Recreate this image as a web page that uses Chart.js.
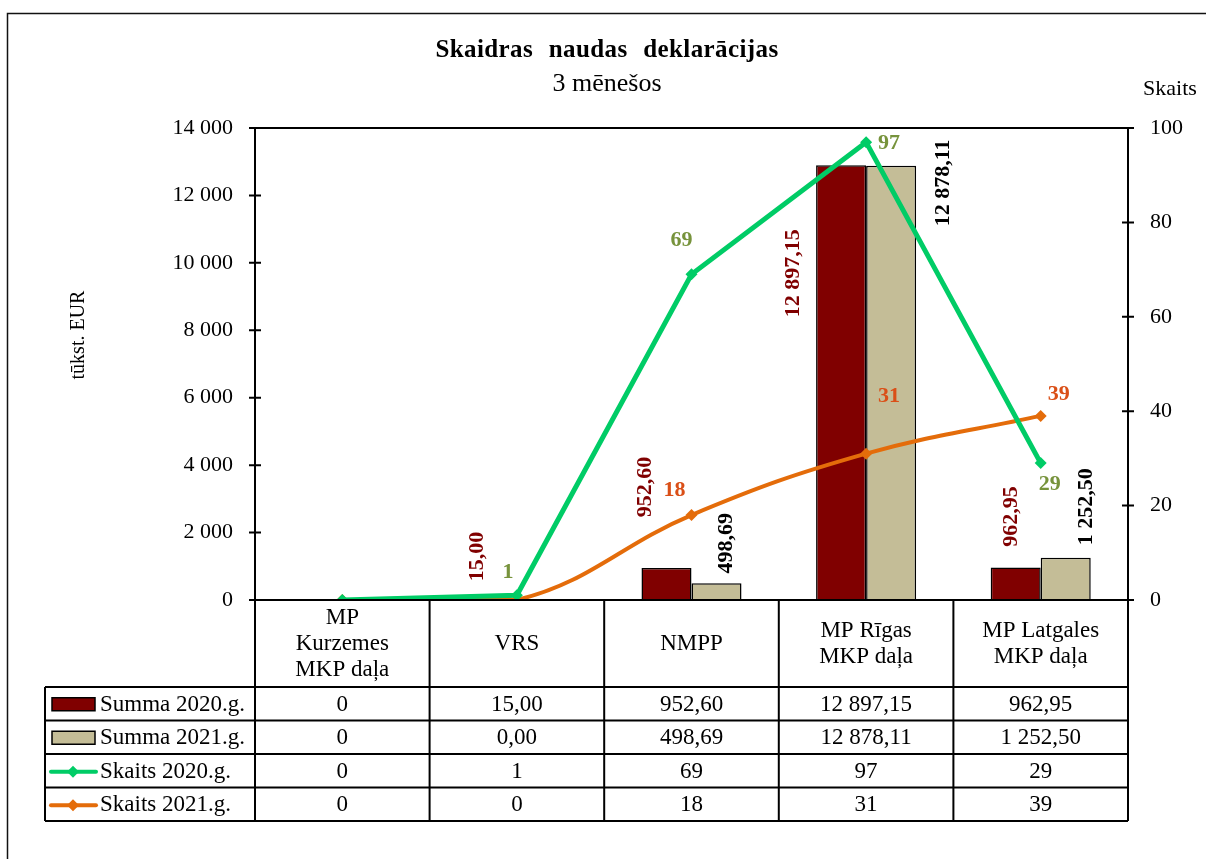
<!DOCTYPE html>
<html><head><meta charset="utf-8">
<script src="https://cdn.jsdelivr.net/npm/chart.js@4.4.1/dist/chart.umd.min.js"></script>
<style>html,body{margin:0;padding:0;background:#fff;}canvas{display:block;}</style>
</head><body>
<canvas id="c" width="1206" height="859"></canvas>
<script>
// ---- data ----
const categories = [['MP','Kurzemes','MKP daļa'], ['VRS'], ['NMPP'], ['MP Rīgas','MKP daļa'], ['MP Latgales','MKP daļa']];
const summa2020 = [0, 15.00, 952.60, 12897.15, 962.95];
const summa2021 = [0, 0.00, 498.69, 12878.11, 1252.50];
const skaits2020 = [0, 1, 69, 97, 29];
const skaits2021 = [0, 0, 18, 31, 39];
const leftTicks = [0, 2000, 4000, 6000, 8000, 10000, 12000, 14000];
const rightTicks = [0, 20, 40, 60, 80, 100];
const seriesNames = ['Summa 2020.g.', 'Summa 2021.g.', 'Skaits 2020.g.', 'Skaits 2021.g.'];
const titleText = 'Skaidras naudas deklarācijas';
const subtitleText = '3 mēnešos';
const leftAxisTitle = 'tūkst. EUR';
const rightAxisTitle = 'Skaits';

// ---- styles ----
const FONT = '"Liberation Serif", "Times New Roman", serif';
const C_RED = '#800000', C_BEIGE = '#C4BD97', C_GREEN = '#00CC66', C_ORANGE = '#E46C0A';
const LBL_GREEN = '#77933C', LBL_ORANGE = '#DA4F17';

function fmtNum(v, dec) {
  const s = v.toFixed(dec);
  let [ip, dp] = s.split('.');
  ip = ip.replace(/\B(?=(\d{3})+(?!\d))/g, ' ');
  return dp ? ip + ',' + dp : ip;
}
const fmtSum = (v, i) => i === 0 ? String(v) : fmtNum(v, 2);
const fmtCnt = (v) => String(v);

// label placement (offset of text centre from the mark, px)
const labelCfg = [
  { color: C_RED, rotate: true, off: [null, [-15, -43], [-21, -81], [-48, 108], [-4, -51]] },
  { color: '#000', rotate: true, off: [null, null, [10, -40], [52, 17], [21, -51]] },
  { color: LBL_GREEN, rotate: false, off: [null, [-9, -23], [-10, -34], [23, 1], [9, 21]] },
  { color: LBL_ORANGE, rotate: false, off: [null, null, [-17, -25], [23, -57], [18, -22]] }
];

const tableRowsY = [687, 720.5, 754, 787.5, 821];

const decor = {
  id: 'decor',
  beforeDraw(chart) {
    const ctx = chart.ctx;
    ctx.save();
    ctx.fillStyle = '#fff';
    ctx.fillRect(0, 0, chart.width, chart.height);
    ctx.strokeStyle = '#111';
    ctx.lineWidth = 1.5;
    ctx.strokeRect(7.5, 13.5, 1300, 1000);
    // titles
    ctx.fillStyle = '#000';
    ctx.textAlign = 'center';
    ctx.textBaseline = 'middle';
    ctx.font = 'bold 25px ' + FONT;
    if ('letterSpacing' in ctx) ctx.letterSpacing = '0.4px';
    if ('wordSpacing' in ctx) ctx.wordSpacing = '9px';
    ctx.fillText(titleText, 607, 51);
    if ('letterSpacing' in ctx) ctx.letterSpacing = '0px';
    if ('wordSpacing' in ctx) ctx.wordSpacing = '0px';
    ctx.font = '26px ' + FONT;
    ctx.fillText(subtitleText, 607, 84);
    ctx.font = '22px ' + FONT;
    ctx.fillText(rightAxisTitle, 1170, 89);
    ctx.save();
    ctx.translate(79, 335);
    ctx.rotate(-Math.PI / 2);
    ctx.font = '20px ' + FONT;
    ctx.fillText(leftAxisTitle, 0, 0);
    ctx.restore();
    ctx.restore();
  },
  afterDatasetsDraw(chart) {
    const ctx = chart.ctx;
    const a = chart.chartArea;
    const yL = chart.scales.y, yR = chart.scales.y1, xs = chart.scales.x;
    ctx.save();
    ctx.strokeStyle = '#000';
    ctx.lineWidth = 2;
    ctx.beginPath();
    // plot frame / axes
    ctx.moveTo(a.left, a.top); ctx.lineTo(a.right, a.top);
    ctx.moveTo(a.left, a.top); ctx.lineTo(a.left, tableRowsY[tableRowsY.length - 1]);
    ctx.moveTo(a.right, a.top); ctx.lineTo(a.right, tableRowsY[tableRowsY.length - 1]);
    ctx.moveTo(a.left - 6, a.bottom); ctx.lineTo(a.right + 6, a.bottom);
    leftTicks.forEach(v => { const y = yL.getPixelForValue(v); ctx.moveTo(a.left - 6, y); ctx.lineTo(a.left + 6, y); });
    rightTicks.forEach(v => { const y = yR.getPixelForValue(v); ctx.moveTo(a.right - 6, y); ctx.lineTo(a.right + 6, y); });
    // table
    const n = categories.length;
    const bounds = [a.left];
    for (let i = 0; i < n - 1; i++) bounds.push((xs.getPixelForValue(i) + xs.getPixelForValue(i + 1)) / 2);
    bounds.push(a.right);
    const tb = tableRowsY[tableRowsY.length - 1];
    bounds.forEach(x => { ctx.moveTo(x, a.bottom); ctx.lineTo(x, tb); });
    const legL = 45;
    ctx.moveTo(legL, tableRowsY[0]); ctx.lineTo(legL, tb);
    tableRowsY.forEach(y => { ctx.moveTo(legL, y); ctx.lineTo(a.right, y); });
    ctx.stroke();

    ctx.fillStyle = '#000';
    ctx.textAlign = 'center';
    ctx.textBaseline = 'middle';
    ctx.font = '23px ' + FONT;
    const lh = 26;
    const hc = (a.bottom + tableRowsY[0]) / 2;
    categories.forEach((lines, i) => {
      const cx = xs.getPixelForValue(i);
      lines.forEach((t, k) => ctx.fillText(t, cx, hc + (k - (lines.length - 1) / 2) * lh));
    });
    const rows = [summa2020.map(fmtSum), summa2021.map(fmtSum), skaits2020.map(fmtCnt), skaits2021.map(fmtCnt)];
    rows.forEach((vals, r) => {
      const cy = (tableRowsY[r] + tableRowsY[r + 1]) / 2 + 1;
      vals.forEach((t, i) => ctx.fillText(t, xs.getPixelForValue(i), cy));
      // legend key
      const ds = chart.data.datasets[r];
      if (ds.type === 'bar') {
        ctx.fillStyle = ds.backgroundColor;
        ctx.fillRect(52, cy - 7, 43, 13);
        ctx.lineWidth = 1.5; ctx.strokeStyle = '#000';
        ctx.strokeRect(52, cy - 7, 43, 13);
      } else {
        ctx.strokeStyle = ds.borderColor; ctx.lineWidth = 4; ctx.lineCap = 'round';
        ctx.beginPath(); ctx.moveTo(51, cy); ctx.lineTo(96, cy); ctx.stroke();
        ctx.fillStyle = ds.borderColor;
        ctx.beginPath(); ctx.moveTo(73, cy - 6); ctx.lineTo(79, cy); ctx.lineTo(73, cy + 6); ctx.lineTo(67, cy); ctx.closePath(); ctx.fill();
      }
      ctx.fillStyle = '#000';
      ctx.textAlign = 'left';
      ctx.fillText(seriesNames[r], 100, cy);
      ctx.textAlign = 'center';
    });

    // data labels
    ctx.font = 'bold 22px ' + FONT;
    chart.data.datasets.forEach((ds, d) => {
      const meta = chart.getDatasetMeta(d);
      const cfg = labelCfg[d];
      ds.data.forEach((v, i) => {
        const off = cfg.off[i];
        if (!off) return;
        const el = meta.data[i];
        const txt = ds.type === 'bar' ? fmtNum(v, 2) : fmtCnt(v);
        ctx.save();
        ctx.fillStyle = cfg.color;
        ctx.translate(el.x + off[0], el.y + off[1]);
        if (cfg.rotate) ctx.rotate(-Math.PI / 2);
        ctx.fillText(txt, 0, 0);
        ctx.restore();
      });
    });
    ctx.restore();
  }
};

new Chart(document.getElementById('c'), {
  data: {
    labels: categories,
    datasets: [
      { type: 'bar', label: seriesNames[0], data: summa2020, yAxisID: 'y', backgroundColor: C_RED, borderColor: '#000', borderWidth: 1.5, order: 2 },
      { type: 'bar', label: seriesNames[1], data: summa2021, yAxisID: 'y', backgroundColor: C_BEIGE, borderColor: '#000', borderWidth: 1.5, order: 2 },
      { type: 'line', label: seriesNames[2], data: skaits2020, yAxisID: 'y1', borderColor: C_GREEN, backgroundColor: C_GREEN, borderWidth: 5, tension: 0, pointStyle: 'rectRot', pointRadius: 6, pointBorderWidth: 0, order: 0 },
      { type: 'line', label: seriesNames[3], data: skaits2021, yAxisID: 'y1', borderColor: C_ORANGE, backgroundColor: C_ORANGE, borderWidth: 4, tension: 0.4, pointStyle: 'rectRot', pointRadius: 6, pointBorderWidth: 0, order: 1 }
    ]
  },
  options: {
    responsive: false,
    devicePixelRatio: 1,
    animation: false,
    layout: { padding: { top: 128, bottom: 259, left: 0, right: 0 } },
    datasets: { bar: { categoryPercentage: 0.573, barPercentage: 1 } },
    plugins: { legend: { display: false }, title: { display: false }, tooltip: { enabled: false } },
    scales: {
      x: { display: false, offset: true },
      y: {
        position: 'left', min: 0, max: 14000,
        afterBuildTicks: s => { s.ticks = leftTicks.map(v => ({ value: v })); },
        afterFit: s => { s.width = 255; },
        grid: { display: false }, border: { display: false },
        ticks: { padding: 14, color: '#000', font: { family: FONT, size: 22 }, callback: v => fmtNum(v, 0) }
      },
      y1: {
        position: 'right', min: 0, max: 100,
        afterBuildTicks: s => { s.ticks = rightTicks.map(v => ({ value: v })); },
        afterFit: s => { s.width = 78; },
        grid: { display: false }, border: { display: false },
        ticks: { padding: 14, color: '#000', font: { family: FONT, size: 22 }, callback: v => String(v) }
      }
    }
  },
  plugins: [decor]
});
</script>
</body></html>
